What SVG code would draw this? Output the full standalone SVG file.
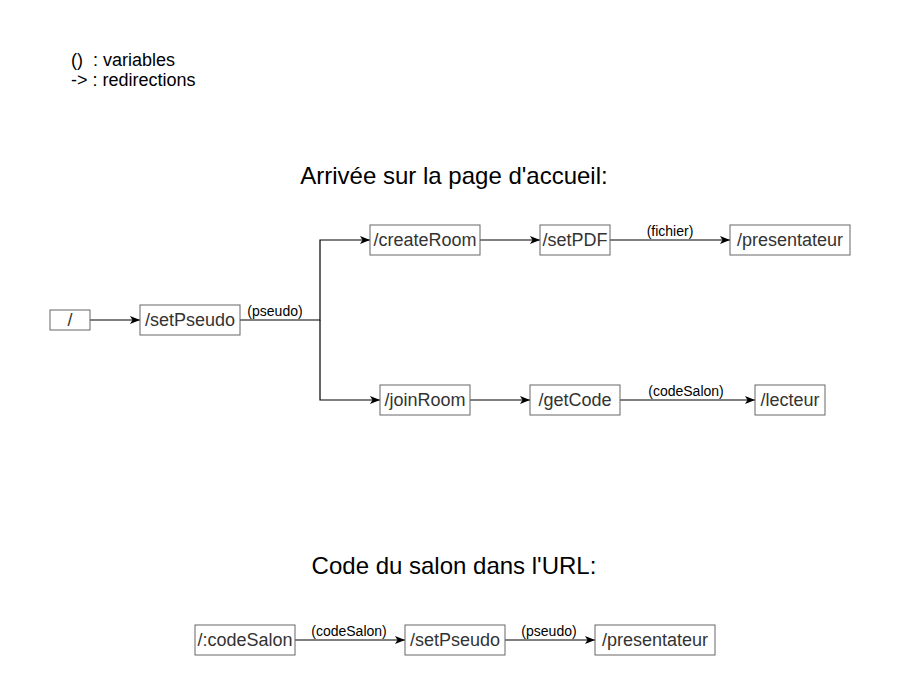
<svg xmlns="http://www.w3.org/2000/svg" width="901" height="691" viewBox="0 0 901 691">
<defs>
<style>
.box{fill:#ffffff;stroke:#666666;stroke-width:1}
.bt{font-family:"Liberation Sans",Arial,sans-serif;font-size:18px;fill:#333333;text-anchor:middle;dominant-baseline:central}
.lbl{font-family:"Liberation Sans",Arial,sans-serif;font-size:14px;fill:#000000;text-anchor:middle}
.title{font-family:"Liberation Sans",Arial,sans-serif;font-size:24px;fill:#000000;text-anchor:middle}
.leg{font-family:"Liberation Sans",Arial,sans-serif;font-size:18px;fill:#000000}
.edge{fill:none;stroke:#000000;stroke-width:1.2}
</style>
<marker id="arr" viewBox="0 0 10 10" refX="10" refY="5" markerWidth="10" markerHeight="10" markerUnits="userSpaceOnUse" orient="auto">
<path d="M0,1 L10,5 L0,9 L2.5,5 Z" fill="#000000"/>
</marker>
</defs>
<rect width="901" height="691" fill="#ffffff"/>
<g id="legend">
<text class="leg" x="71" y="66" xml:space="preserve">()  : variables</text>
<text class="leg" x="71" y="86">-&gt; : redirections</text>
</g>
<g id="title1"><text class="title" x="454" y="184">Arrivée sur la page d'accueil:</text></g>
<g id="title2"><text class="title" x="454" y="574">Code du salon dans l'URL:</text></g>
<g id="connectors">
<path class="edge" d="M90,320 L140,320" marker-end="url(#arr)"/>
<path class="edge" d="M240,320 L320,320 L320,240 L370,240" marker-end="url(#arr)"/>
<path class="edge" d="M320,320 L320,400 L380,400" marker-end="url(#arr)"/>
<path class="edge" d="M480,240 L540,240" marker-end="url(#arr)"/>
<path class="edge" d="M610,240 L730,240" marker-end="url(#arr)"/>
<path class="edge" d="M470,400 L530,400" marker-end="url(#arr)"/>
<path class="edge" d="M620,400 L755,400" marker-end="url(#arr)"/>
<path class="edge" d="M295,640 L405,640" marker-end="url(#arr)"/>
<path class="edge" d="M505,640 L595,640" marker-end="url(#arr)"/>
<text class="lbl" x="275" y="316">(pseudo)</text>
<text class="lbl" x="670" y="236">(fichier)</text>
<text class="lbl" x="686" y="396">(codeSalon)</text>
<text class="lbl" x="349" y="636">(codeSalon)</text>
<text class="lbl" x="549" y="636">(pseudo)</text>
</g>
<g id="n-root"><rect class="box" x="50" y="310" width="40" height="20"/><text class="bt" x="70" y="320">/</text></g>
<g id="n-setPseudo"><rect class="box" x="140" y="305" width="100" height="30"/><text class="bt" x="190" y="320">/setPseudo</text></g>
<g id="n-createRoom"><rect class="box" x="370" y="225" width="110" height="30"/><text class="bt" x="425" y="240">/createRoom</text></g>
<g id="n-setPDF"><rect class="box" x="540" y="225" width="70" height="30"/><text class="bt" x="575" y="240">/setPDF</text></g>
<g id="n-presentateur1"><rect class="box" x="730" y="225" width="120" height="30"/><text class="bt" x="790" y="240">/presentateur</text></g>
<g id="n-joinRoom"><rect class="box" x="380" y="385" width="90" height="30"/><text class="bt" x="425" y="400">/joinRoom</text></g>
<g id="n-getCode"><rect class="box" x="530" y="385" width="90" height="30"/><text class="bt" x="575" y="400">/getCode</text></g>
<g id="n-lecteur"><rect class="box" x="755" y="385" width="70" height="30"/><text class="bt" x="790" y="400">/lecteur</text></g>
<g id="n-codeSalon"><rect class="box" x="195" y="625" width="100" height="30"/><text class="bt" x="245" y="640">/:codeSalon</text></g>
<g id="n-setPseudo2"><rect class="box" x="405" y="625" width="100" height="30"/><text class="bt" x="455" y="640">/setPseudo</text></g>
<g id="n-presentateur2"><rect class="box" x="595" y="625" width="120" height="30"/><text class="bt" x="655" y="640">/presentateur</text></g>
</svg>
